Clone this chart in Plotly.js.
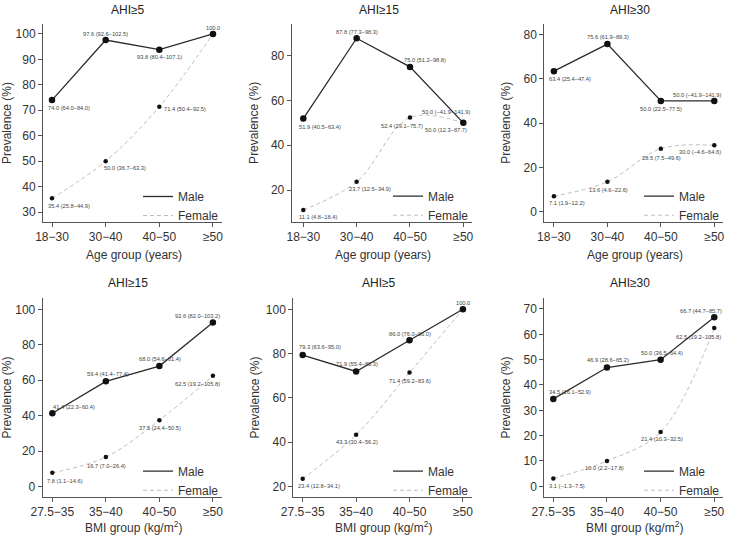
<!DOCTYPE html>
<html><head><meta charset="utf-8">
<script src="https://cdn.plot.ly/plotly-3.0.1.min.js"></script>
<style>html,body{margin:0;padding:0;background:#fff}</style>
</head><body><div id="chart" style="width:729px;height:536px"></div>
<script>
// ---------- data ----------
const ageGroups = ["18\u221230", "30\u221240", "40\u221250", "\u226550"];
const bmiGroups = ["27.5\u221235", "35\u221240", "40\u221250", "\u226550"];

const titles = ["AHI\u22655", "AHI\u226515", "AHI\u226530", "AHI\u226515", "AHI\u22655", "AHI\u226530"];

const male1 = [74.0, 97.6, 93.8, 100.0];
const female1 = [35.4, 50.0, 71.4, 100.0];
const maleLab1 = ["74.0 (64.0\u221284.0)", "97.6 (92.6\u2212102.5)", "93.8 (80.4\u2212107.1)", "100.0"];
const femaleLab1 = ["35.4 (25.8\u221244.9)", "50.0 (36.7\u221263.3)", "71.4 (50.4\u221292.5)", ""];

const male2 = [51.9, 87.8, 75.0, 50.0];
const female2 = [11.1, 23.7, 52.4, 50.0];
const maleLab2 = ["51.9 (40.5\u221263.4)", "87.8 (77.3\u221298.3)", "75.0 (51.2\u221298.8)", "50.0 (12.3\u221287.7)"];
const femaleLab2 = ["11.1 (4.8\u221218.4)", "23.7 (12.5\u221234.9)", "52.4 (29.1\u221275.7)", "50.0 (\u221241.9\u2212141.9)"];

const male3 = [63.4, 75.6, 50.0, 50.0];
const female3 = [7.1, 13.6, 28.5, 30.0];
const maleLab3 = ["63.4 (25.4\u221247.4)", "75.6 (61.9\u221289.3)", "50.0 (22.5\u221277.5)", "50.0 (\u221241.9\u2212141.9)"];
const femaleLab3 = ["7.1 (1.9\u221212.2)", "13.6 (4.6\u221222.6)", "28.5 (7.5\u221249.6)", "30.0 (\u22124.6\u221264.6)"];

const male4 = [41.4, 59.4, 68.0, 92.6];
const female4 = [7.8, 16.7, 37.5, 62.5];
const maleLab4 = ["41.4 (22.3\u221260.4)", "59.4 (41.4\u221277.4)", "68.0 (54.6\u221281.4)", "92.6 (82.0\u2212103.2)"];
const femaleLab4 = ["7.8 (1.1\u221214.6)", "16.7 (7.0\u221226.4)", "37.5 (24.4\u221250.5)", "62.5 (19.2\u2212105.8)"];

const male5 = [79.3, 71.9, 86.0, 100.0];
const female5 = [23.4, 43.3, 71.4, 100.0];
const maleLab5 = ["79.3 (63.6\u221295.0)", "71.9 (55.4\u221288.3)", "86.0 (76.0\u221296.0)", "100.0"];
const femaleLab5 = ["23.4 (12.8\u221234.1)", "43.3 (30.4\u221256.2)", "71.4 (59.2\u221283.6)", ""];

const male6 = [34.5, 46.9, 50.0, 66.7];
const female6 = [3.1, 10.0, 21.4, 62.5];
const maleLab6 = ["34.5 (16.1\u221252.9)", "46.9 (28.6\u221265.2)", "50.0 (36.5\u221264.4)", "66.7 (44.7\u221285.7)"];
const femaleLab6 = ["3.1 (\u22121.3\u22127.5)", "10.0 (2.2\u221217.8)", "21.4 (10.3\u221232.5)", "62.5 (19.2\u2212105.8)"];

const yTicks1 = [30, 40, 50, 60, 70, 80, 90, 100];
const yTicks2 = [20, 40, 60, 80];
const yTicks3 = [0, 20, 40, 60, 80];
const yTicks4 = [0, 20, 40, 60, 80, 100];
const yTicks5 = [20, 40, 60, 80, 100];
const yTicks6 = [0, 10, 20, 30, 40, 50, 60, 70];

// ---------- layout / style ----------
const W = 729, H = 536;
const FONT = "Liberation Sans, Arial, Helvetica, sans-serif";
const px = v => v / W;
const py = v => 1 - v / H;

const panels = [
  {cats: ageGroups, m: male1, f: female1, ml: maleLab1, fl: femaleLab1, yt: yTicks1, xt: "Age group (years)",
   box: [43, 222, 24, 222], xr: [-0.168, 3.168], yr: [26.1, 103.9], tx: 128.3, ty: 10, xty: 255,
   mPos: [["left",-4.7,8.3],["center",0,-5.7],["center",0,7.3],["center",0,-6.3]],
   fPos: [["left",-4.7,7.3],["left",-3,7],["left",3.3,2.3],null]},
  {cats: ageGroups, m: male2, f: female2, ml: maleLab2, fl: femaleLab2, yt: yTicks2, xt: "Age group (years)",
   box: [291.7, 472, 24, 221.7], xr: [-0.2175, 3.163], yr: [5.84, 94.16], tx: 379.3, ty: 10, xty: 255,
   mPos: [["left",-5.6,8],["center",0.7,-6.7],["center",14.7,-7.3],["center",-17.7,7.3]],
   fPos: [["left",-5.6,6.7],["left",-8.3,7.3],["center",-8,8.4],["center",-17,-10.6]]},
  {cats: ageGroups, m: male3, f: female3, ml: maleLab3, fl: femaleLab3, yt: yTicks3, xt: "Age group (years)",
   box: [544.3, 723, 24, 221.7], xr: [-0.18, 3.163], yr: [-4.37, 84.64], tx: 630, ty: 10, xty: 255,
   mPos: [["left",-5.7,8],["center",0.8,-6.6],["center",0,8.3],["center",-17,-6.4]],
   fPos: [["left",-5.7,6.6],["center",1.3,8.5],["center",1,9],["center",-14,6.7]]},
  {cats: bmiGroups, m: male4, f: female4, ml: maleLab4, fl: femaleLab4, yt: yTicks4, xt: "BMI group (kg/m<sup>2</sup>)",
   box: [42.7, 222, 298.3, 496.7], xr: [-0.18, 3.17], yr: [-5.64, 106.2], tx: 128.3, ty: 283.3, xty: 526.5,
   mPos: [["left",0,-6.6],["center",2,-7.7],["center",0.2,-6.7],["center",-15,-6.6]],
   fPos: [["left",-6.6,8.4],["center",0.5,8.7],["center",0.2,8.3],["center",-15,8.3]]},
  {cats: bmiGroups, m: male5, f: female5, ml: maleLab5, fl: femaleLab5, yt: yTicks5, xt: "BMI group (kg/m<sup>2</sup>)",
   box: [293.3, 472, 298.3, 496.7], xr: [-0.176, 3.17], yr: [15.3, 104.97], tx: 379.2, ty: 283.3, xty: 526.5,
   mPos: [["left",-4.4,-8.3],["center",0.7,-7.7],["center",0,-6.3],["center",0,-6.6]],
   fPos: [["left",-6,7],["center",0.7,7.7],["center",0,8.3],null]},
  {cats: bmiGroups, m: male6, f: female6, ml: maleLab6, fl: femaleLab6, yt: yTicks6, xt: "BMI group (kg/m<sup>2</sup>)",
   box: [544.3, 723, 298.3, 496.7], xr: [-0.168, 3.163], yr: [-4.1, 74.22], tx: 630, ty: 283.3, xty: 526.5,
   mPos: [["left",-5,-6.7],["center",0.8,-7.6],["center",1,-7],["center",-13.3,-6.6]],
   fPos: [["left",-5,7.4],["center",-2.2,7.3],["center",1,7.3],["center",-15.3,9]]}
];

const MALE_LINE = {color: "#2b2b2b", width: 1.3};
const FEMALE_LINE = {color: "#bdbdbd", width: 1, dash: "4px,3px", shape: "spline", smoothing: 1};

const traces = [];
const annotations = [];
const layout = {
  width: W, height: H,
  margin: {l: 0, r: 0, t: 0, b: 0},
  paper_bgcolor: "#fff", plot_bgcolor: "#fff",
  font: {family: FONT, color: "#222"},
  showlegend: true,
  annotations: annotations
};

panels.forEach((p, i) => {
  const n = i + 1;
  const xa = n === 1 ? "x" : "x" + n;
  const ya = n === 1 ? "y" : "y" + n;
  const lg = n === 1 ? "legend" : "legend" + n;
  const [x0, x1, y0, y1] = p.box;

  traces.push({x: p.cats, y: p.m, xaxis: xa, yaxis: ya, legend: lg, name: "Male", mode: "lines",
               line: MALE_LINE, hoverinfo: "skip"});
  traces.push({x: p.cats, y: p.f, xaxis: xa, yaxis: ya, legend: lg, name: "Female", mode: "lines",
               line: FEMALE_LINE, hoverinfo: "skip"});
  traces.push({x: p.cats, y: p.m, xaxis: xa, yaxis: ya, showlegend: false, mode: "markers",
               marker: {size: 6.5, color: "#111"}, hoverinfo: "skip"});
  traces.push({x: p.cats, y: p.f, xaxis: xa, yaxis: ya, showlegend: false, mode: "markers",
               marker: {size: 4.5, color: "#111"}, hoverinfo: "skip"});

  layout["xaxis" + (n === 1 ? "" : n)] = {
    domain: [px(x0), px(x1)], range: p.xr, type: "category", anchor: ya,
    showline: true, linecolor: "#555", linewidth: 1, mirror: false,
    ticks: "outside", ticklen: 4, tickcolor: "#555", tickwidth: 1,
    tickfont: {size: 12, color: "#333", family: FONT},
    showgrid: false, zeroline: false, fixedrange: true
  };
  layout["yaxis" + (n === 1 ? "" : n)] = {
    domain: [py(y1), py(y0)], range: p.yr, anchor: xa,
    showline: true, linecolor: "#555", linewidth: 1,
    ticks: "outside", ticklen: 4, tickcolor: "#555", tickwidth: 1,
    tickvals: p.yt, tickfont: {size: 12, color: "#333", family: FONT},
    showgrid: false, zeroline: false, fixedrange: true,
    title: {text: "Prevalence (%)", font: {size: 12, color: "#333", family: FONT}}
  };
  layout[lg] = {
    x: px(x1 - 84), xanchor: "left", y: py(y1 + 8), yanchor: "bottom",
    bgcolor: "rgba(0,0,0,0)", borderwidth: 0,
    font: {size: 12, color: "#333", family: FONT}, tracegroupgap: 0
  };

  // panel title
  annotations.push({text: titles[i], xref: "paper", yref: "paper", x: px(p.tx), y: py(p.ty),
                    xanchor: "center", yanchor: "middle", showarrow: false,
                    font: {size: 12, color: "#222", family: FONT}});
  // x-axis title
  annotations.push({text: p.xt, xref: "paper", yref: "paper", x: px((x0 + x1) / 2 + 1), y: py(p.xty),
                    xanchor: "center", yanchor: "middle", showarrow: false,
                    font: {size: 12, color: "#333", family: FONT}});

  const addLabels = (vals, labs, pos) => {
    vals.forEach((v, k) => {
      if (!labs[k] || !pos[k]) return;
      const [anc, dx, dy] = pos[k];
      annotations.push({text: labs[k], xref: xa, yref: ya, x: p.cats[k], y: v,
                        xanchor: anc, yanchor: "middle", xshift: dx, yshift: -dy,
                        showarrow: false, borderpad: 0,
                        font: {size: 5.7, color: "#444", family: FONT}});
    });
  };
  addLabels(p.m, p.ml, p.mPos);
  addLabels(p.f, p.fl, p.fPos);
});

Plotly.newPlot("chart", traces, layout, {displayModeBar: false, staticPlot: true});
</script>
</body></html>
